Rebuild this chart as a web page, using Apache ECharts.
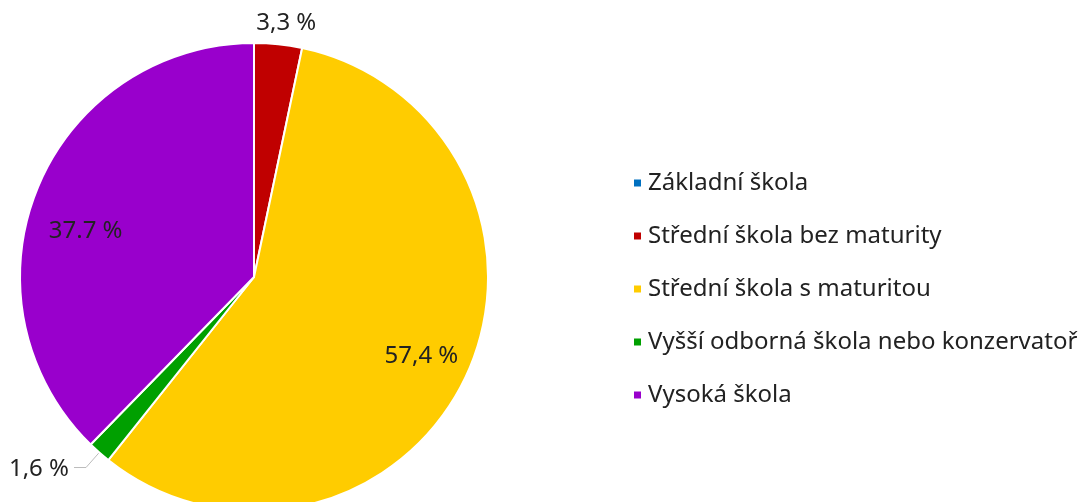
<!DOCTYPE html>
<html>
<head>
<meta charset="utf-8">
<script src="https://cdn.jsdelivr.net/npm/echarts@6/dist/echarts.min.js"></script>
<style>
  html, body { margin: 0; padding: 0; background: #fff; }
  #box { width: 1085px; height: 502px; }
</style>
</head>
<body>
<div id="box"></div>
<script>
  const categories = [
    'Základní škola',
    'Střední škola bez maturity',
    'Střední škola s maturitou',
    'Vyšší odborná škola nebo konzervatoř',
    'Vysoká škola',
  ];
  const shares = [0, 3.3, 57.4, 1.6, 37.7];
  const shareLabels = ['', '3,3 %', '57,4 %', '1,6 %', '37.7 %'];
  const colors = ['#0070C0', '#C00000', '#FFCC00', '#00A000', '#9900CC'];

  const font = 'Noto Sans';
  const fontSize = 24;
  const insideIdx = [2, 4];

  const chart = echarts.init(document.getElementById('box'));

  const baseData = categories.map((name, i) => ({
    name,
    value: shares[i],
    itemStyle: { color: colors[i] },
    label: {
      show: i === 1 || i === 3,
      formatter: shareLabels[i],
      offset: i === 1 ? [-27, -21] : [0, 2],
    },
    labelLine: i === 3
      ? { show: true, length: 20, length2: 12 }
      : { show: false, length: 0, length2: 0 },
  }));

  // transparent ring so the inside labels sit further out than half the radius
  const overlayData = categories.map((name, i) => ({
    name,
    value: shares[i],
    label: {
      show: insideIdx.includes(i),
      formatter: shareLabels[i],
      offset: i === 4 ? [3, 24] : [0, 0],
    },
  }));

  chart.setOption({
    animation: false,
    legend: {
      orient: 'vertical',
      left: 627,
      top: 165,
      icon: 'rect',
      itemWidth: 9,
      itemHeight: 9,
      itemGap: 27,
      data: categories,
      textStyle: {
        fontFamily: font,
        fontSize: fontSize,
        lineHeight: 26,
        color: '#222',
        padding: [0, 0, 0, 1],
      },
    },
    series: [
      {
        type: 'pie',
        center: [254, 277],
        radius: [0, 234],
        startAngle: 90,
        clockwise: true,
        avoidLabelOverlap: false,
        stillShowZeroSum: true,
        itemStyle: { borderColor: '#fff', borderWidth: 2 },
        label: {
          position: 'outside',
          fontFamily: font,
          fontSize: fontSize,
          color: '#222',
        },
        labelLine: { lineStyle: { color: '#bbb', width: 1 }, smooth: false },
        emphasis: { disabled: true },
        data: baseData,
      },
      {
        type: 'pie',
        center: [254, 277],
        radius: [130, 234],
        startAngle: 90,
        clockwise: true,
        silent: true,
        legendHoverLink: false,
        itemStyle: { color: 'rgba(0,0,0,0)' },
        label: {
          position: 'inside',
          fontFamily: font,
          fontSize: fontSize,
          color: '#222',
        },
        labelLine: { show: false },
        emphasis: { disabled: true },
        data: overlayData,
      },
    ],
  });
</script>
</body>
</html>
